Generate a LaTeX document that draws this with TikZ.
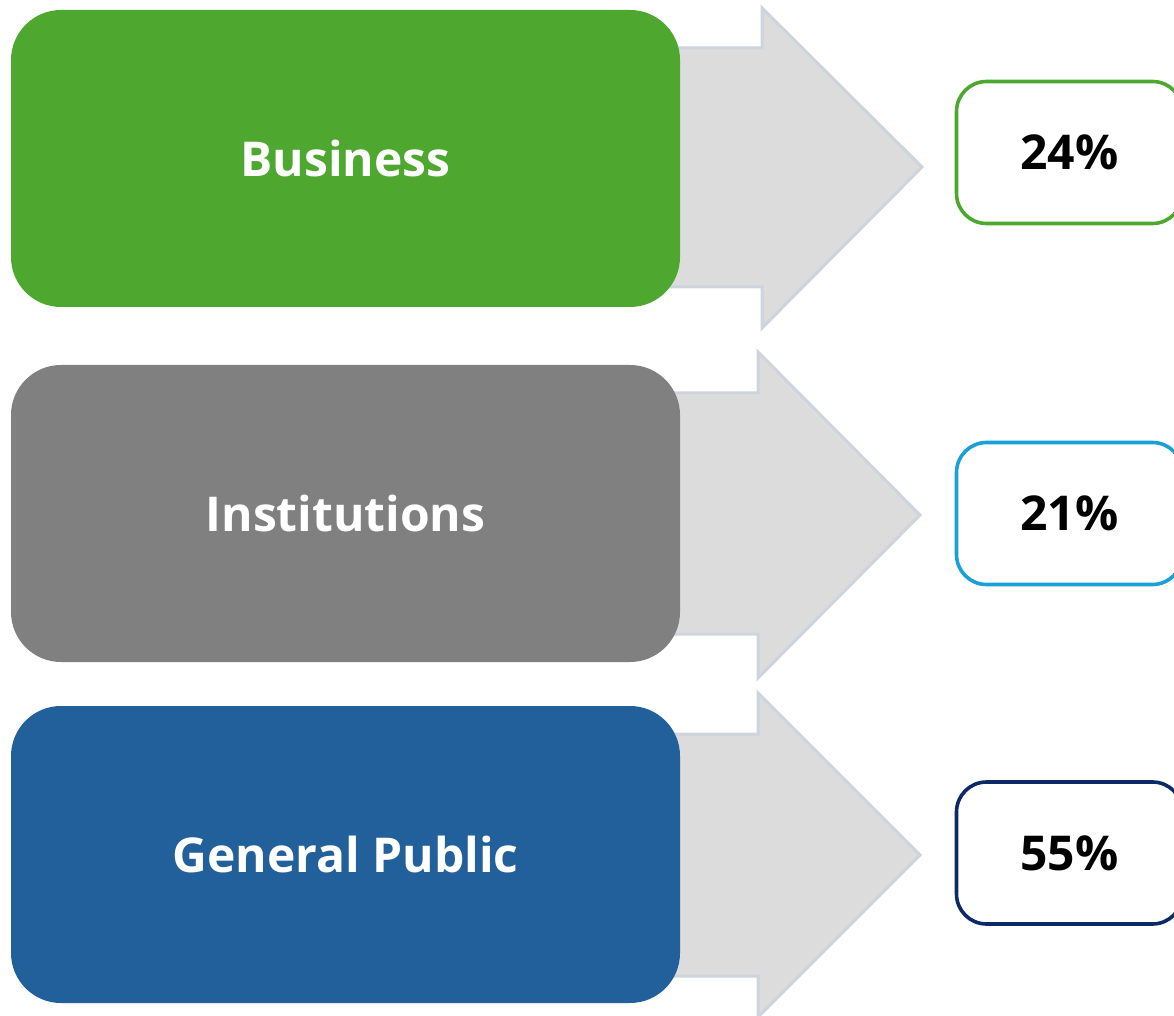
\documentclass[tikz,border=0pt]{standalone}
\usepackage{fontspec}
\setmainfont{Open Sans}
\usetikzlibrary{positioning}
\usetikzlibrary{calc}
\definecolor{businesscolor}{RGB}{78, 167, 46}
\definecolor{institutioncolor}{RGB}{128, 128, 128}
\definecolor{publiccolor}{RGB}{34, 96, 155}
\definecolor{arrowfill}{RGB}{220, 220, 220}
\definecolor{arrowedge}{RGB}{206, 212, 220}
\definecolor{cyanedge}{RGB}{24, 160, 215}
\definecolor{navyedge}{RGB}{12, 42, 102}
\tikzstyle{group} = [rectangle, rounded corners=25pt, minimum width=334.5pt, minimum height=148.5pt, inner sep=0pt, text=white, font=\fontsize{24}{28}\selectfont\bfseries]
\tikzstyle{share} = [rectangle, rounded corners=15pt, draw, line width=1.8pt, fill=white, minimum width=113pt, minimum height=71pt, inner sep=0pt, font=\fontsize{24}{28}\selectfont\bfseries]
\tikzstyle{bigarrow} = [fill=arrowfill, draw=arrowedge, line width=1.5pt, line join=miter]

\begin{document}
\begin{tikzpicture}[x=0.5pt, y=-0.5pt]
		\useasboundingbox (0,0) rectangle (1174,1016);
		
		%
		% Arrows (behind the boxes)
		\draw [bigarrow] (600,48) -- (762,48) -- (762,8) -- (922,167) -- (762,328) -- (762,287) -- (600,287) -- cycle;
		\draw [bigarrow] (600,393) -- (758,393) -- (758,352) -- (920,515) -- (758,678) -- (758,634) -- (600,634) -- cycle;
		\draw [bigarrow] (600,734) -- (758,734) -- (758,693) -- (920,855) -- (758,1017) -- (758,976) -- (600,976) -- cycle;
		
		%
		% Groups
		\node [group, fill=businesscolor] at (345.5,158.5) (business) {Business};
		\node [group, fill=institutioncolor] at (345.5,513.5) (institutions) {Institutions};
		\node [group, fill=publiccolor] at (345.5,854.5) (public) {General Public};
		
		%
		% Shares
		\node [share, draw=businesscolor] at (1069.5,152.5) (share_business) {24\%};
		\node [share, draw=cyanedge] at (1069.5,513.5) (share_institutions) {21\%};
		\node [share, draw=navyedge] at (1069.5,853) (share_public) {55\%};
	
	\end{tikzpicture}
\end{document}
